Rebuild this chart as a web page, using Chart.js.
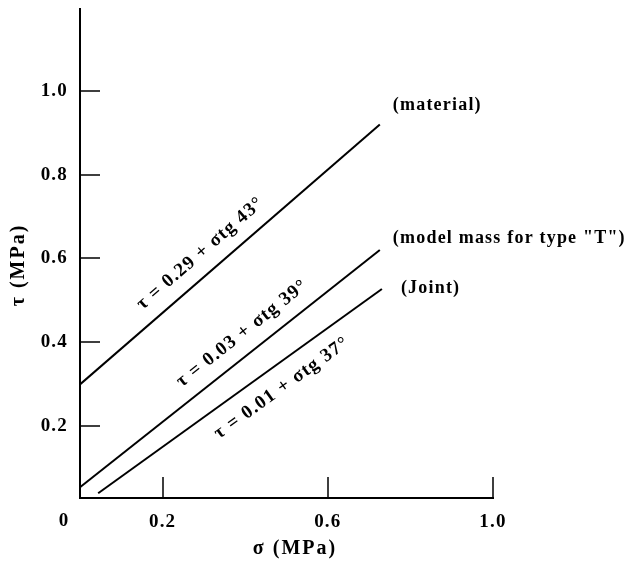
<!DOCTYPE html>
<html>
<head>
<meta charset="utf-8">
<script src="https://cdn.jsdelivr.net/npm/chart.js@4"></script>
<style>
html,body{margin:0;padding:0;background:#fff;}
#wrap{width:633px;height:561px;position:relative;}
</style>
</head>
<body>
<div id="wrap"><canvas id="chart"></canvas></div>
<script>
// data
const seriesNames = ['(material)', '(model mass for type "T")', '(Joint)'];
const equations = ['τ = 0.29 + σtg 43°', 'τ = 0.03 + σtg 39°', 'τ = 0.01 + σtg 37°'];
const sigmaFrom = [0, 0, 0.044];
const sigmaTo = [0.726, 0.726, 0.731];
const tauFrom = [0.299, 0.053, 0.039];
const tauTo = [0.920, 0.620, 0.527];
const xTicks = [0.2, 0.6, 1.0];
const yTicks = [0.2, 0.4, 0.6, 0.8, 1.0];

// label placement (fraction along the line, px offset off the line; px offset from line end)
const eqPlace = [{t:0.445, off:20}, {t:0.582, off:20}, {t:0.602, off:-22}];
const namePlace = [{dx:13, dy:-19}, {dx:13, dy:-12}, {dx:19, dy:-1}];

const FONT = '"Liberation Serif", "Times New Roman", serif';
const SPACING = '1.2px';

const datasets = seriesNames.map((name,i)=>({
label:name,
data:[{x:sigmaFrom[i], y:tauFrom[i]}, {x:sigmaTo[i], y:tauTo[i]}],
borderColor:'#000',
borderWidth:2,
pointRadius:0,
fill:false,
tension:0
}));

const decor = {
id:'decor',
beforeDraw(c){
c.ctx.letterSpacing = SPACING;
},
afterDraw(c){
const ctx = c.ctx;
const a = c.chartArea;
const x = c.scales.x, y = c.scales.y;
ctx.save();
ctx.letterSpacing = SPACING;

// inside tick marks
ctx.strokeStyle = '#000';
ctx.lineWidth = 1.5;
ctx.beginPath();
yTicks.forEach(v=>{
const py = Math.round(y.getPixelForValue(v));
ctx.moveTo(a.left, py);
ctx.lineTo(a.left + 20, py);
});
xTicks.forEach(v=>{
const px = Math.round(x.getPixelForValue(v));
ctx.moveTo(px, a.bottom);
ctx.lineTo(px, a.bottom - 21);
});
ctx.stroke();

ctx.fillStyle = '#000';
ctx.font = 'bold 19px ' + FONT;
ctx.textAlign = 'center';
ctx.textBaseline = 'middle';
ctx.fillText('0', x.getPixelForValue(0) - 16, 521);

// axis titles
ctx.save();
ctx.letterSpacing = '2px';
ctx.font = 'bold 20px ' + FONT;
ctx.fillText('σ (MPa)', 295, 549);
ctx.translate(19, 265);
ctx.rotate(-Math.PI/2);
ctx.fillText('τ (MPa)', 0, 0);
ctx.restore();

// equations along the lines and names at the line ends
seriesNames.forEach((name,i)=>{
const x0 = x.getPixelForValue(sigmaFrom[i]), y0 = y.getPixelForValue(tauFrom[i]);
const x1 = x.getPixelForValue(sigmaTo[i]), y1 = y.getPixelForValue(tauTo[i]);
const ang = Math.atan2(y1 - y0, x1 - x0);
const p = eqPlace[i];
const len = Math.hypot(x1 - x0, y1 - y0);
const ux = (x1 - x0)/len, uy = (y1 - y0)/len;
// normal pointing up-left
const nx = uy, ny = -ux;
const cx = x0 + ux*len*p.t + nx*p.off;
const cy = y0 + uy*len*p.t + ny*p.off;
ctx.save();
ctx.translate(cx, cy);
ctx.rotate(ang);
ctx.font = 'bold 19px ' + FONT;
ctx.textAlign = 'center';
ctx.fillText(equations[i], 0, 0);
ctx.restore();

ctx.font = 'bold 18px ' + FONT;
ctx.textAlign = 'left';
ctx.fillText(name, x1 + namePlace[i].dx, y1 + namePlace[i].dy);
});
ctx.restore();
}
};

new Chart(document.getElementById('chart'), {
type:'line',
data:{datasets},
options:{
responsive:true,
maintainAspectRatio:false,
animation:false,
layout:{padding:{left:0, top:9, right:140, bottom:0}},
plugins:{legend:{display:false}, tooltip:{enabled:false}},
scales:{
x:{
type:'linear',
min:0, max:1.0,
afterBuildTicks(s){ s.ticks = xTicks.map(v=>({value:v})); },
afterFit(s){ s.height = 63; s.paddingLeft = 0; s.paddingRight = 0; },
grid:{display:false, drawTicks:false},
border:{display:true, color:'#000', width:2},
ticks:{color:'#000', padding:13, maxRotation:0, autoSkip:false,
font:{family:FONT, size:19, weight:'bold'},
callback:v=>v.toFixed(1)}
},
y:{
type:'linear',
min:0.0275, max:1.196,
afterBuildTicks(s){ s.ticks = yTicks.map(v=>({value:v})); },
afterFit(s){ s.width = 80; s.paddingTop = 0; s.paddingBottom = 0; },
grid:{display:false, drawTicks:false},
border:{display:true, color:'#000', width:2},
ticks:{color:'#000', padding:12, autoSkip:false,
font:{family:FONT, size:19, weight:'bold'},
callback:v=>v.toFixed(1)}
}
}
},
plugins:[decor]
});
</script>
</body>
</html>
